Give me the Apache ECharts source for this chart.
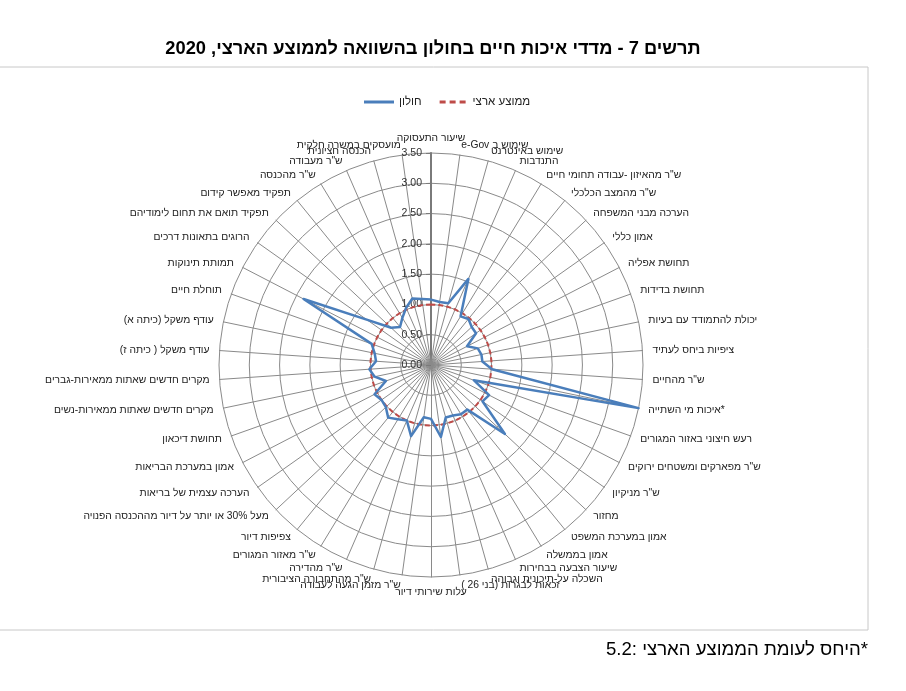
<!DOCTYPE html>
<html>
<head>
<meta charset="utf-8">
<script src="https://cdn.jsdelivr.net/npm/echarts@6/dist/echarts.min.js"></script>
<style>
html,body{margin:0;padding:0;background:#fff;}
#chart{width:906px;height:691px;}
</style>
</head>
<body>
<div id="chart"></div>
<script>
// Indicators, clockwise from the top
const categories = [
  'שיעור התעסוקה',
  'e-Gov שימוש ב',
  'שימוש באינטרנט',
  'התנדבות',
  'ש"ר מהאיזון -עבודה תחומי חיים',
  'ש"ר מהמצב הכלכלי',
  'הערכה מבני המשפחה',
  'אמון כללי',
  'תחושת אפליה',
  'תחושת בדידות',
  'יכולת להתמודד עם בעיות',
  'ציפיות ביחס לעתיד',
  'ש"ר מהחיים',
  'איכות מי השתייה*',
  'רעש חיצוני באזור המגורים',
  'ש"ר מפארקים ומשטחים ירוקים',
  'ש"ר מניקיון',
  'מחזור',
  'אמון במערכת המשפט',
  'אמון בממשלה',
  'שיעור הצבעה בבחירות',
  'השכלה על-תיכונית וגבוהה',
  'זכאות לבגרות (בני 26 )',
  'עלות שירותי דיור',
  'ש"ר מזמן הגעה לעבודה',
  'ש"ר מהתחבורה הציבורית',
  'ש"ר מהדירה',
  'ש"ר מאזור המגורים',
  'צפיפות דיור',
  'מעל 30% או יותר על דיור מההכנסה הפנויה',
  'הערכה עצמית של בריאות',
  'אמון במערכת הבריאות',
  'תחושת דיכאון',
  'מקרים חדשים שאתות ממאירות-נשים',
  'מקרים חדשים שאתות ממאירות-גברים',
  'עודף משקל ( כיתה ז)',
  'עודף משקל (כיתה א)',
  'תוחלת חיים',
  'תמותת תינוקות',
  'הרוגים בתאונות דרכים',
  'תפקיד תואם את תחום לימודיהם',
  'תפקיד מאפשר קידום',
  'ש"ר מהכנסה',
  'ש"ר מעבודה',
  'הכנסה חציונית',
  'מועסקים במשרה חלקית'
];

const holonValues = [
  1.08, 1.05, 1.06, 1.55, 0.94, 0.98, 0.92, 0.91, 0.67, 0.82,
  0.85, 0.85, 1.01, 3.50, 0.75, 1.08, 1.04, 1.67, 0.95, 0.95,
  0.91, 0.90, 1.20, 0.89, 0.87, 1.22, 1.00, 1.05, 1.12, 1.02,
  1.00, 1.05, 0.79, 0.95, 1.02, 0.91, 0.95, 1.04, 2.37, 1.30,
  0.90, 0.81, 0.91, 1.03, 1.14, 1.10
];

const nationalValues = [
  1, 1, 1, 1, 1, 1, 1, 1, 1, 1,
  1, 1, 1, 1, 1, 1, 1, 1, 1, 1,
  1, 1, 1, 1, 1, 1, 1, 1, 1, 1,
  1, 1, 1, 1, 1, 1, 1, 1, 1, 1,
  1, 1, 1, 1, 1, 1
];

const radiusTickLabels = ['0.00', '0.50', '1.00', '1.50', '2.00', '2.50', '3.00', '3.50'];

const seriesNames = ['חולון', 'ממוצע ארצי'];
const seriesColors = ['#4a7ebb', '#be4b48'];
const titleText = 'תרשים 7 - מדדי איכות חיים בחולון בהשוואה לממוצע הארצי, 2020';
const footnoteText = '5.2: היחס לעומת הממוצע הארצי*';

// ECharts radar runs counter-clockwise: keep item 0 on top, reverse the rest
function clockwiseOrder(arr) {
  return [arr[0]].concat(arr.slice(1).reverse());
}
const RMAX = 3.5;
const FONT = '"Liberation Sans", Arial, sans-serif';

const indicators = clockwiseOrder(categories).map(function (name, k) {
  const ind = {name: name, min: 0, max: RMAX};
  if (k === 0) {
    ind.axisLabel = {
      show: true, fontSize: 10.5, color: '#333', fontFamily: FONT, margin: 9,
      formatter: function (v) { return radiusTickLabels[Math.round(v / 0.5)]; }
    };
    ind.axisTick = {show: true, length: 5, lineStyle: {color: '#7a7a7a'}};
    ind.axisLine = {lineStyle: {color: '#7a7a7a', width: 2}};
  }
  return ind;
});

const chart = echarts.init(document.getElementById('chart'), null, {renderer: 'canvas'});
chart.setOption({
  backgroundColor: '#fff',
  animation: false,
  color: seriesColors,
  textStyle: {fontFamily: FONT},
  title: {
    text: titleText,
    left: 428,
    textAlign: 'center',
    top: 35,
    textStyle: {fontSize: 18.3, fontWeight: 'bold', color: '#000', fontFamily: FONT}
  },
  graphic: [
    {type: 'rect', shape: {x: -1, y: 67, width: 869, height: 563},
     style: {fill: 'none', stroke: '#c8c8c8', lineWidth: 1}, silent: true},
    {type: 'text', right: 38, top: 640,
     style: {text: footnoteText, font: '18.6px ' + FONT, fill: '#000'}}
  ],
  legend: {
    data: [
      {name: seriesNames[0], icon: 'path://M0,0H30V3H0Z', itemStyle: {color: seriesColors[0]}},
      {name: seriesNames[1], icon: 'path://M0,0H6V3H0Z M10,0H16V3H10Z M20,0H26V3H20Z', itemStyle: {color: seriesColors[1]}}
    ],
    top: 91,
    left: 359,
    itemWidth: 30,
    itemHeight: 3,
    itemGap: 18,
    textStyle: {fontSize: 11.5, color: '#222', fontFamily: FONT}
  },
  radar: {
    center: [431, 365],
    radius: 212,
    startAngle: 90,
    shape: 'circle',
    splitNumber: 7,
    nameGap: 10,
    axisName: {color: '#222', fontSize: 10.3, fontFamily: FONT},
    axisLine: {show: true, lineStyle: {color: '#8a8a8a', width: 1}},
    axisTick: {show: false},
    axisLabel: {show: false},
    splitLine: {show: true, lineStyle: {color: '#8a8a8a', width: 1}},
    splitArea: {show: false},
    indicator: indicators
  },
  series: [
    {
      name: seriesNames[0],
      type: 'radar',
      symbol: 'none',
      z: 4,
      itemStyle: {color: seriesColors[0]},
      lineStyle: {color: seriesColors[0], width: 2.5},
      data: [{
        name: seriesNames[0],
        value: clockwiseOrder(holonValues)
      }]
    },
    {
      name: seriesNames[1],
      type: 'radar',
      symbol: 'none',
      z: 3,
      itemStyle: {color: seriesColors[1]},
      lineStyle: {color: seriesColors[1], width: 2, type: [5, 3]},
      data: [{
        name: seriesNames[1],
        value: clockwiseOrder(nationalValues)
      }]
    }
  ]
});
</script>
</body>
</html>
